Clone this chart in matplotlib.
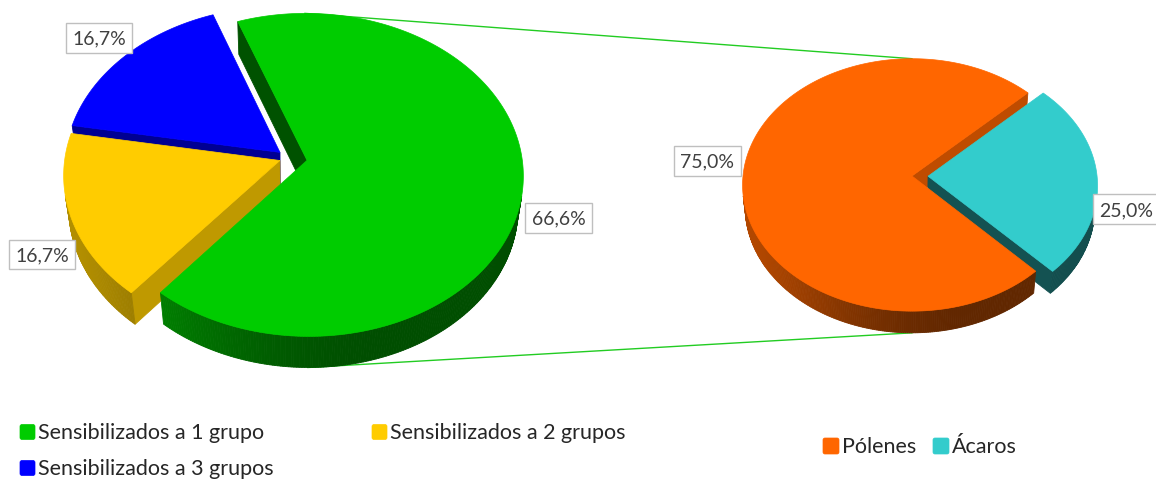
import numpy as np
import matplotlib
matplotlib.use("Agg")
import matplotlib.pyplot as plt
from matplotlib.patches import Polygon, FancyBboxPatch
from matplotlib.colors import to_rgb

# ---------------- data ----------------
main_categories = ["Sensibilizados a 1 grupo", "Sensibilizados a 2 grupos", "Sensibilizados a 3 grupos"]
main_values = [66.6, 16.7, 16.7]
sub_categories = ["Pólenes", "Ácaros"]
sub_values = [75.0, 25.0]

# ---------------- style ----------------
main_colors = ["#00CC00", "#FFCC00", "#0000FF"]
sub_colors = ["#FF6600", "#33CCCC"]
main_explode = [0.085, 0.045, 0.055]
sub_explode = [0.0, 0.095]
main_label_nudge = [(36, 30), (-29, 37), (-26, -18)]
sub_label_nudge = [(-36, -13), (29, 31)]
connector_color = "#22CC22"

plt.rcParams["font.family"] = ["Lato", "DejaVu Sans"]

W, H = 1156, 481
fig = plt.figure(figsize=(W / 100, H / 100), dpi=100)
ax = fig.add_axes([0, 0, 1, 1])
ax.set_xlim(0, W)
ax.set_ylim(H, 0)
ax.axis("off")


def fmt_pct(v):
    return f"{v:.1f}".replace(".", ",") + "%"


def side_shade(theta):
    return 0.38 + 0.32 * max(0.0, np.cos(np.radians(theta - 200))) ** 2


def cut_shade(normal):
    return 0.40 + 0.35 * max(0.0, np.cos(np.radians(normal + 40)))


def shaded(color, f):
    return tuple(np.clip(np.array(to_rgb(color)) * f, 0, 1))


class Pie3D:
    """A thick pie seen from above through a perspective camera (pixel units)."""

    def __init__(self, cx, cy, radius, elev, cam_px, thickness, start):
        self.cx, self.cy, self.R = cx, cy, radius
        a = np.radians(elev)
        self.s, self.c = np.sin(a), np.cos(a)
        self.D = cam_px / radius
        self.h = thickness
        self.start = start
        self.cam = np.array([0.0, -self.D * self.c, self.D * self.s])

    def proj(self, x, y, z):
        x, y, z = np.asarray(x, float), np.asarray(y, float), np.asarray(z, float)
        depth = self.D + y * self.c - z * self.s
        f = self.D / depth
        return self.cx + self.R * x * f, self.cy - self.R * (y * self.s + z * self.c) * f, depth

    def slices(self, values, explode):
        total = float(sum(values))
        a = self.start
        out = []
        for v, e in zip(values, explode):
            span = v / total * 360.0
            t0, t1 = a - span, a
            mid = np.radians((t0 + t1) / 2)
            out.append((t0, t1, (e * np.cos(mid), e * np.sin(mid))))
            a -= span
        return out

    def faces(self, values, explode, colors):
        walls, tops = [], []
        for (t0, t1, (ox, oy)), col in zip(self.slices(values, explode), colors):
            n = max(8, int(abs(t1 - t0) * 1.5))
            ts = np.radians(np.linspace(t0, t1, n))
            xs, ys = ox + np.cos(ts), oy + np.sin(ts)
            # top face
            px, py, d = self.proj(np.r_[ox, xs], np.r_[oy, ys], np.zeros(n + 1))
            tops.append((d.mean(), np.c_[px, py], col))
            # outer rim, split into thin quads for shading
            for k in range(n - 1):
                tm = (ts[k] + ts[k + 1]) / 2
                nrm = np.array([np.cos(tm), np.sin(tm), 0.0])
                p = np.array([ox + np.cos(tm), oy + np.sin(tm), -self.h / 2])
                if nrm @ (self.cam - p) <= 0:
                    continue
                qx = [xs[k], xs[k + 1], xs[k + 1], xs[k]]
                qy = [ys[k], ys[k + 1], ys[k + 1], ys[k]]
                qz = [0, 0, -self.h, -self.h]
                px, py, d = self.proj(qx, qy, qz)
                walls.append((d.mean(), np.c_[px, py],
                              shaded(col, side_shade(np.degrees(tm)))))
            # radial cut faces
            for tdeg, sgn in ((t0, -1), (t1, 1)):
                t = np.radians(tdeg)
                nang = tdeg + sgn * 90
                nrm = np.array([np.cos(np.radians(nang)), np.sin(np.radians(nang)), 0.0])
                p = np.array([ox + 0.5 * np.cos(t), oy + 0.5 * np.sin(t), -self.h / 2])
                if nrm @ (self.cam - p) <= 0:
                    continue
                rx, ry = ox + np.cos(t), oy + np.sin(t)
                px, py, d = self.proj([ox, rx, rx, ox], [oy, ry, ry, oy],
                                      [0, 0, -self.h, -self.h])
                walls.append((d.mean(), np.c_[px, py], shaded(col, cut_shade(nang))))
        return walls, tops

    def extremes(self, values, explode, idx):
        t0, t1, (ox, oy) = self.slices(values, explode)[idx]
        ts = np.radians(np.linspace(t0, t1, 400))
        px, py, _ = self.proj(ox + np.cos(ts), oy + np.sin(ts), np.zeros_like(ts))
        bx, by, _ = self.proj(ox + np.cos(ts), oy + np.sin(ts), np.full_like(ts, -self.h))
        i, j = np.argmin(py), np.argmax(by)
        return (px[i], py[i]), (bx[j], by[j])

    def label_anchor(self, values, explode, idx):
        t0, t1, (ox, oy) = self.slices(values, explode)[idx]
        m = np.radians((t0 + t1) / 2)
        px, py, _ = self.proj(ox + np.cos(m), oy + np.sin(m), 0.0)
        return float(px), float(py)


main_pie = Pie3D(cx=289, cy=159, radius=215, elev=48, cam_px=1600, thickness=0.23, start=110)
sub_pie = Pie3D(cx=912, cy=177, radius=169, elev=48, cam_px=1600, thickness=0.20, start=-46)

# connector lines between the main slice and the breakdown pie
(g_top, g_bot) = main_pie.extremes(main_values, main_explode, 0)
tops_sub = [sub_pie.extremes(sub_values, sub_explode, i) for i in range(len(sub_values))]
s_top = min((t[0] for t in tops_sub), key=lambda p: p[1])
s_bot = max((t[1] for t in tops_sub), key=lambda p: p[1])
ax.plot([g_top[0], s_top[0]], [g_top[1], s_top[1]], color=connector_color, lw=1.0, zorder=1)
ax.plot([g_bot[0], s_bot[0]], [g_bot[1], s_bot[1]], color=connector_color, lw=1.0, zorder=1)

for pie, vals, expl, cols in ((main_pie, main_values, main_explode, main_colors),
                              (sub_pie, sub_values, sub_explode, sub_colors)):
    walls, tops = pie.faces(vals, expl, cols)
    for _, verts, col in sorted(walls, key=lambda w: -w[0]):
        ax.add_patch(Polygon(verts, closed=True, fc=col, ec=col, lw=0.6, zorder=2))
    for _, verts, col in sorted(tops, key=lambda w: -w[0]):
        ax.add_patch(Polygon(verts, closed=True, fc=col, ec=col, lw=0.5, zorder=3))

# data labels
box = dict(boxstyle="square,pad=0.33", fc="white", ec="#BFBFBF", lw=1.0)
for pie, vals, expl, nudges in ((main_pie, main_values, main_explode, main_label_nudge),
                                (sub_pie, sub_values, sub_explode, sub_label_nudge)):
    for i, v in enumerate(vals):
        x, y = pie.label_anchor(vals, expl, i)
        ax.text(x + nudges[i][0], y + nudges[i][1], fmt_pct(v), fontsize=14,
                color="#404040", ha="center", va="center", bbox=box, zorder=5)


# legends
def legend_item(x, y, color, text, size=15):
    ax.add_patch(FancyBboxPatch((x, y - size / 2), size, size,
                                boxstyle="round,pad=0,rounding_size=2",
                                fc=color, ec=color, lw=0.5, zorder=5))
    ax.text(x + size + 3, y, text, fontsize=15.5, color="#262626",
            ha="left", va="center", zorder=5)


main_slots = [(20, 433), (372, 433), (20, 469)]
for (x, y), col, name in zip(main_slots, main_colors, main_categories):
    legend_item(x, y, col, name)

sub_slots = [(823, 447), (933, 447)]
for (x, y), col, name in zip(sub_slots, sub_colors, sub_categories):
    legend_item(x, y, col, name, size=16)

fig.savefig("out.png", dpi=100)
